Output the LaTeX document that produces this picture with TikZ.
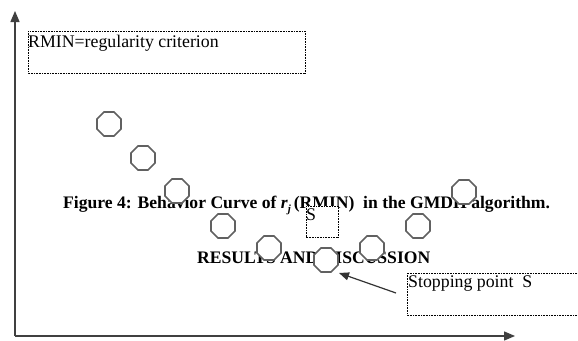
\documentclass[tikz,border=0pt]{standalone}
\usepackage{fontspec}
\setmainfont{Liberation Serif}
\usetikzlibrary{shapes.geometric,arrows.meta}
\tikzset{
  txt/.style={inner sep=0pt, anchor=base west, font=\fontsize{17.8}{20}\selectfont},
  boldtxt/.style={txt, font=\fontsize{17.6}{20}\selectfont\bfseries},
  dotbox/.style={draw=black, line width=0.7pt, dash pattern=on 0.8pt off 0.8pt, fill=white},
  octa/.style={regular polygon, regular polygon sides=8, minimum size=26pt, inner sep=0pt,
    draw=black!62, line width=1.7pt, fill=white},
  axis/.style={draw=black!75, line width=1.3pt, -{Triangle[length=11pt,width=9pt]}},
  pointer/.style={draw=black!80, line width=1.2pt, -{Triangle[length=10pt,width=8pt]}}
}
\begin{document}
\begin{tikzpicture}[x=1pt,y=-1pt]
\clip (0,0) rectangle (578,340);
\fill[white] (0,0) rectangle (578,340);
% caption texts
\node[boldtxt] (cap) at (63,208) {Figure 4: Behavior Curve of \textit{r}\raisebox{-0.28em}{\fontsize{11}{12}\selectfont\itshape j}\,(RMIN)\ \ in the GMDH algorithm.};
\node[boldtxt] (res) at (197,263) {RESULTS AND DISCUSSION};
% S box
\path[dotbox] (306,206) rectangle (338,237);
\node[txt] (slabel) at (306,220) {S};
% octagons
\node[octa] (o1) at (109,124) {};
\node[octa] (o2) at (143,158) {};
\node[octa] (o3) at (177,191) {};
\node[octa] (o4) at (223,226) {};
\node[octa] (o5) at (269,248) {};
\node[octa] (o6) at (326,260) {};
\node[octa] (o7) at (372,248) {};
\node[octa] (o8) at (418,226) {};
\node[octa] (o9) at (464,192) {};
% RMIN box
\path[dotbox] (28,31) rectangle (305,73);
\node[txt] (rmin) at (28,47) {RMIN=regularity criterion};
% stopping box
\path[dotbox] (407,273) rectangle (590,315);
\node[txt] (stop) at (408,287) {Stopping point\ \ S};
% pointer arrow
\coordinate (pstart) at (396,293);
\coordinate (ptip) at (339,273);
\draw[pointer] (pstart) -- (ptip);
% axes
\coordinate (origin) at (15,336);
\coordinate (ytop) at (15,11);
\coordinate (xend) at (515,336);
\draw[axis] (origin) -- (ytop);
\draw[axis] (origin) -- (xend);
\end{tikzpicture}
\end{document}
